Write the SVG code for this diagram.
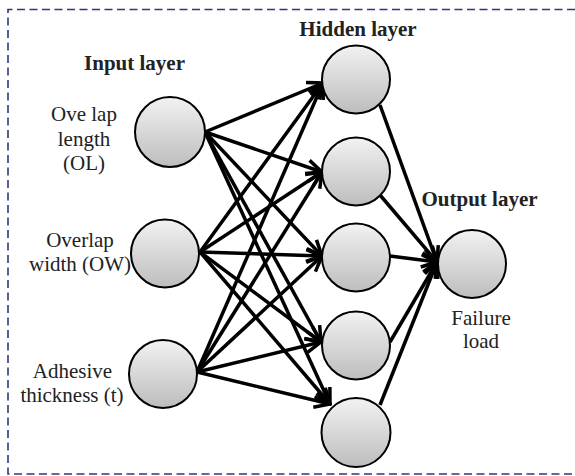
<svg xmlns="http://www.w3.org/2000/svg" width="575" height="476" viewBox="0 0 575 476">
<style>
.node{fill:url(#g);stroke:#000;stroke-width:2}
.lbl{font-family:"Liberation Serif","Times New Roman",serif;font-size:21px;fill:#222;text-anchor:middle}
.hdr{font-family:"Liberation Serif","Times New Roman",serif;font-size:21px;font-weight:bold;fill:#222;text-anchor:middle}
.c line{stroke:#000;stroke-width:3.5}
.c .a{marker-end:url(#arr)}
</style>
<defs>
<linearGradient id="g" x1="0" y1="0" x2="0" y2="1">
<stop offset="0" stop-color="#f2f2f2"/>
<stop offset="1" stop-color="#bdbdbd"/>
</linearGradient>
<marker id="arr" markerUnits="userSpaceOnUse" viewBox="0 0 20 20" markerWidth="20" markerHeight="20" refX="18" refY="10" orient="auto">
<path d="M2.5,3 L18,10 L2.5,17" fill="none" stroke="#000" stroke-width="3.5"/>
</marker>
</defs>
<path d="M575,9.5 H8 V474 H575" fill="none" stroke="#2b3a7c" stroke-width="1.6" stroke-dasharray="8,4.5"/>
<g id="titles">
<text class="hdr" x="358" y="36">Hidden layer</text>
<text class="hdr" x="134.5" y="70">Input layer</text>
<text class="hdr" x="479.5" y="206">Output layer</text>
</g>
<g id="connectors" class="c">
<line class="a" x1="205" y1="132" x2="323" y2="83"/>
<line class="a" x1="205" y1="132" x2="322" y2="172"/>
<line class="a" x1="205" y1="132" x2="322" y2="256"/>
<line class="a" x1="205" y1="132" x2="321" y2="342"/>
<line class="a" x1="205" y1="132" x2="330" y2="404"/>
<line class="a" x1="200" y1="252" x2="323" y2="83"/>
<line class="a" x1="200" y1="252" x2="322" y2="172"/>
<line class="a" x1="200" y1="252" x2="322" y2="256"/>
<line class="a" x1="200" y1="252" x2="321" y2="342"/>
<line class="a" x1="200" y1="252" x2="330" y2="404"/>
<line class="a" x1="197" y1="372" x2="323" y2="83"/>
<line class="a" x1="197" y1="372" x2="322" y2="172"/>
<line class="a" x1="197" y1="372" x2="322" y2="256"/>
<line class="a" x1="197" y1="372" x2="321" y2="342"/>
<line class="a" x1="197" y1="372" x2="330" y2="404"/>
<line class="a" x1="380" y1="105" x2="437" y2="262"/>
<line class="a" x1="380" y1="195" x2="437" y2="262"/>
<line class="a" x1="390" y1="256" x2="437" y2="262"/>
<line class="a" x1="390" y1="342" x2="437" y2="262"/>
<line class="a" x1="380" y1="405" x2="437" y2="262"/>
</g>
<g id="in1"><circle class="node" cx="170" cy="132" r="35"/>
<text class="lbl" x="84" y="121">Ove lap</text><text class="lbl" x="84" y="146">length</text><text class="lbl" x="84" y="170">(OL)</text></g>
<g id="in2"><circle class="node" cx="165" cy="253.5" r="34"/>
<text class="lbl" x="80" y="247">Overlap</text><text class="lbl" x="80" y="271">width (OW)</text></g>
<g id="in3"><circle class="node" cx="163" cy="374" r="34"/>
<text class="lbl" x="72.5" y="378">Adhesive</text><text class="lbl" x="72" y="402">thickness (t)</text></g>
<g id="h1"><circle class="node" cx="356" cy="79.5" r="34"/></g>
<g id="h2"><circle class="node" cx="356" cy="171.5" r="34"/></g>
<g id="h3"><circle class="node" cx="356" cy="257.5" r="34"/></g>
<g id="h4"><circle class="node" cx="356" cy="345.5" r="34"/></g>
<g id="h5"><circle class="node" cx="356" cy="432.5" r="34.5"/></g>
<g id="out"><circle class="node" cx="472" cy="264" r="34"/>
<text class="lbl" x="481" y="325">Failure</text><text class="lbl" x="481" y="348">load</text></g>
</svg>
